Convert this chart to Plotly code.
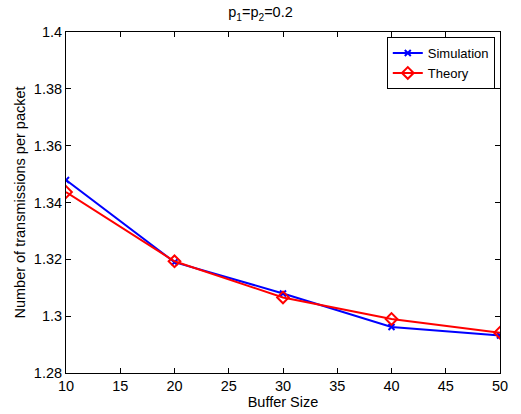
import plotly.graph_objects as go

buffer_size = [10, 20, 30, 40, 50]
simulation = [1.3479, 1.3190, 1.3080, 1.2962, 1.2932]
theory = [1.3437, 1.3193, 1.3066, 1.2990, 1.2942]

y_ticks = [1.28, 1.30, 1.32, 1.34, 1.36, 1.38, 1.40]
y_tick_labels = ["1.28", "1.3", "1.32", "1.34", "1.36", "1.38", "1.4"]
x_ticks = [10, 15, 20, 25, 30, 35, 40, 45, 50]

FONT = "Liberation Sans, Arial, Helvetica, sans-serif"
FS = 14.5

fig = go.Figure()
fig.add_trace(go.Scatter(
    x=buffer_size, y=simulation, name="Simulation", mode="lines+markers",
    line=dict(color="#0000ff", width=2),
    marker=dict(symbol="x-thin", size=6, line=dict(color="#0000ff", width=2)),
))
fig.add_trace(go.Scatter(
    x=buffer_size, y=theory, name="Theory", mode="lines+markers",
    line=dict(color="#ff0000", width=2),
    marker=dict(symbol="diamond-open", size=9, color="#ff0000",
                line=dict(color="#ff0000", width=2)),
))

axis_common = dict(
    showgrid=False, zeroline=False, showline=True, linecolor="black",
    linewidth=1, mirror="ticks", ticks="inside", ticklen=5,
    tickcolor="black", tickfont=dict(size=FS, color="black", family=FONT),
    automargin=False,
)

fig.update_layout(
    width=521, height=414,
    margin=dict(l=66, r=21, t=32, b=41),
    paper_bgcolor="white", plot_bgcolor="white",
    font=dict(family=FONT, size=FS, color="black"),
    title=dict(text="p<sub>1</sub>=p<sub>2</sub>=0.2", x=0.5, xanchor="center",
               y=0.97, yanchor="middle", font=dict(size=FS, family=FONT)),
    xaxis=dict(range=[10, 50], tickvals=x_ticks,
               title=dict(text="Buffer Size", standoff=0, font=dict(size=FS)),
               **axis_common),
    yaxis=dict(range=[1.28, 1.40], tickvals=y_ticks, ticktext=y_tick_labels,
               title=dict(text="Number of transmissions per packet", standoff=4,
                          font=dict(size=FS)),
               **axis_common),
    legend=dict(x=0.988, y=0.985, xanchor="right", yanchor="top",
                bgcolor="white", bordercolor="black", borderwidth=1,
                font=dict(size=13, family=FONT), tracegroupgap=0,
                itemwidth=30),
    showlegend=True,
)

fig.write_html("out.html",
               config={"displayModeBar": False},
               post_script="document.body.style.margin='0';document.body.style.padding='0';")
